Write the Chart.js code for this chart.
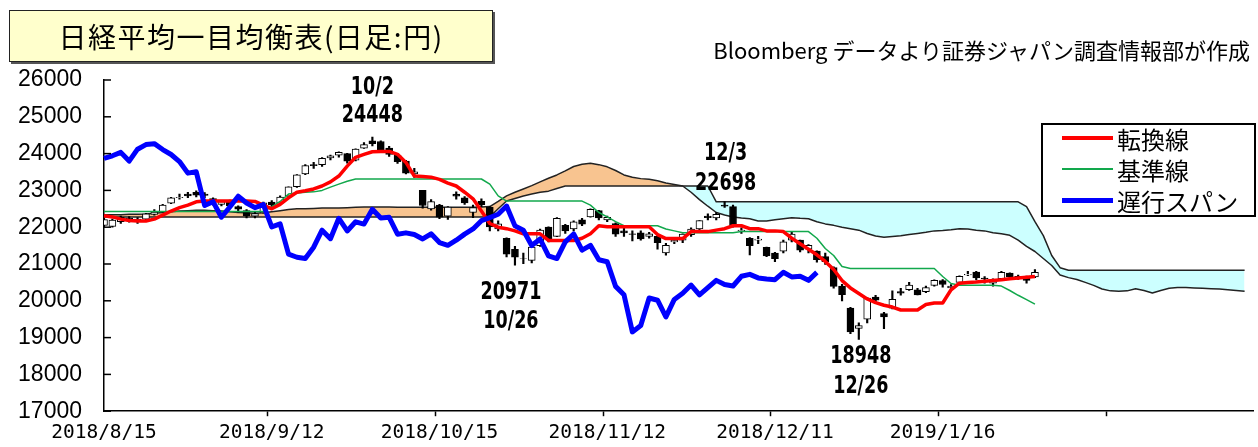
<!DOCTYPE html>
<html lang="ja">
<head>
<meta charset="utf-8">
<title>日経平均一目均衡表</title>
<script src="https://cdn.jsdelivr.net/npm/chart.js@4.4.1/dist/chart.umd.min.js"></script>
<style>
  body { margin: 0; background: #fff; }
  #wrap { position: relative; width: 1258px; height: 447px; overflow: hidden; }
  #wrap canvas { position: absolute; left: 0; top: 0; }
  .title {
    position: absolute; left: 9px; top: 10px; width: 484px; height: 52px; box-sizing: border-box;
    background: #ffffcc; border: 1px solid #222; box-shadow: 2px 2px 0 #555;
    font: 28px "Noto Sans CJK JP", sans-serif; letter-spacing: 1.5px; color: #000;
    display: flex; align-items: center; justify-content: center;
  }
  .source {
    position: absolute; right: 8px; top: 33px; line-height: 28px; white-space: nowrap;
    font: 22px "Noto Sans CJK JP", sans-serif; color: #000;
  }
  .legend {
    position: absolute; left: 1041px; top: 123px; width: 215px; height: 94px; box-sizing: border-box;
    background: #fff; border: 2px solid #000;
  }
  .legend .row {
    position: absolute; left: 19px; height: 26px; display: flex; align-items: center;
    font: 24px "Noto Sans CJK JP", sans-serif; color: #000;
  }
  .legend .swatch { width: 51px; margin-right: 4px; }
</style>
</head>
<body>
<div id="wrap">
  <canvas id="ichimoku"></canvas>
  <div class="title">日経平均一目均衡表(日足:円)</div>
  <div class="source">Bloomberg データより証券ジャパン調査情報部が作成</div>
  <div class="legend">
    <div class="row" style="top:0px"><span class="swatch" style="height:4px;background:#ff0000"></span>転換線</div>
    <div class="row" style="top:31px"><span class="swatch" style="height:1.5px;background:#12a84c"></span>基準線</div>
    <div class="row" style="top:62px"><span class="swatch" style="height:5px;background:#0000ff"></span>遅行スパン</div>
  </div>
</div>
<script>
// trading days shown on the x axis (empty slots follow for the cloud)
const dates = [
  '2018/8/15','2018/8/16','2018/8/17','2018/8/20','2018/8/21','2018/8/22','2018/8/23','2018/8/24','2018/8/27','2018/8/28','2018/8/29','2018/8/30','2018/8/31',
  '2018/9/3','2018/9/4','2018/9/5','2018/9/6','2018/9/7','2018/9/10','2018/9/11','2018/9/12','2018/9/13','2018/9/14','2018/9/18','2018/9/19','2018/9/20','2018/9/21','2018/9/25','2018/9/26','2018/9/27','2018/9/28',
  '2018/10/1','2018/10/2','2018/10/3','2018/10/4','2018/10/5','2018/10/9','2018/10/10','2018/10/11','2018/10/12','2018/10/15','2018/10/16','2018/10/17','2018/10/18','2018/10/19','2018/10/22','2018/10/23','2018/10/24','2018/10/25','2018/10/26','2018/10/29','2018/10/30','2018/10/31',
  '2018/11/1','2018/11/2','2018/11/5','2018/11/6','2018/11/7','2018/11/8','2018/11/9','2018/11/12','2018/11/13','2018/11/14','2018/11/15','2018/11/16','2018/11/19','2018/11/20','2018/11/21','2018/11/22','2018/11/26','2018/11/27','2018/11/28','2018/11/29','2018/11/30',
  '2018/12/3','2018/12/4','2018/12/5','2018/12/6','2018/12/7','2018/12/10','2018/12/11','2018/12/12','2018/12/13','2018/12/14','2018/12/17','2018/12/18','2018/12/19','2018/12/20','2018/12/21','2018/12/25','2018/12/26','2018/12/27','2018/12/28',
  '2019/1/4','2019/1/7','2019/1/8','2019/1/9','2019/1/10','2019/1/11','2019/1/15','2019/1/16','2019/1/17','2019/1/18','2019/1/21','2019/1/22','2019/1/23','2019/1/24','2019/1/25','2019/1/28','2019/1/29','2019/1/30','2019/1/31'
];
const futureSlots = 25;
const tickEvery = 20;

const opens = [22050,22020,22150,22250,22150,22220,22350,22420,22650,22800,22900,22950,22900,
  22780,22620,22700,22560,22450,22300,22390,22680,22650,22840,23100,23450,23700,23700,23880,23960,24000,23820,
  24150,24350,24330,24150,23950,23800,23450,23000,22500,22600,22300,22900,22800,22400,22700,22550,21950,21700,21400,21150,21100,21500,
  22000,21750,22050,21950,22200,22280,22450,22200,22100,21900,21820,21850,21750,21750,21300,21600,21650,21800,21950,22300,22250,
  22600,22560,21900,21700,21650,21450,21300,21350,21650,21650,21400,21350,21200,20900,20400,19800,19250,19500,20100,
  19650,19800,20250,20300,20300,20250,20420,20550,20350,20500,20700,20780,20620,20480,20600,20750,20600,20650,20650];
const highs = [22250,22220,22300,22290,22260,22380,22480,22620,22810,22900,22950,22990,22940,
  22800,22720,22740,22580,22480,22420,22680,22720,22850,23100,23430,23700,23760,23890,23960,24050,24010,24130,
  24300,24448,24350,24200,23990,23820,23600,23000,22750,22620,22560,22960,22830,22600,22770,22560,22170,21710,21480,21300,21520,21950,
  22010,22260,22080,22170,22240,22500,22460,22300,22120,22000,21900,21900,21860,21770,21560,21680,21820,21980,22180,22360,22400,
  22698,22600,21980,21720,21750,21460,21320,21650,21860,21650,21530,21360,21300,20920,20450,19820,19400,20090,20150,
  19690,20270,20340,20500,20340,20400,20570,20580,20440,20680,20800,20800,20660,20600,20800,20760,20700,20670,20850];
const lows = [22000,21999,22100,22140,22100,22200,22330,22400,22640,22760,22800,22820,22800,
  22600,22580,22520,22400,22250,22250,22380,22560,22640,22820,23080,23430,23600,23650,23830,23900,23740,23800,
  24140,24210,24080,23920,23730,23450,23350,22520,22460,22230,22210,22760,22620,22260,22560,21900,21900,21190,20971,21010,21030,21480,
  21600,21740,21830,21900,22040,22270,22200,22150,21750,21750,21630,21650,21700,21400,21240,21550,21580,21750,21920,22200,22200,
  22540,22000,21830,21250,21550,21200,21060,21300,21600,21330,21300,21050,20990,20340,20000,19110,18948,19400,19950,
  19240,19780,20150,20280,20160,20220,20400,20370,20300,20480,20680,20570,20480,20400,20580,20600,20580,20480,20630];
const closes = [22204,22192,22270,22199,22219,22362,22410,22601,22799,22813,22848,22869,22865,
  22707,22697,22580,22487,22307,22373,22664,22604,22821,23094,23420,23672,23674,23869,23940,24033,23796,24120,
  24245,24270,24110,23975,23783,23469,23506,22590,22694,22271,22549,22841,22658,22532,22614,22010,22091,21268,21184,21149,21457,21920,
  21687,22243,21898,22147,22085,22486,22250,22269,21810,21846,21803,21680,21821,21583,21507,21646,21812,21952,22177,22262,22351,
  22574,22036,21919,21501,21679,21219,21148,21602,21816,21375,21506,21115,21061,20392,20166,19155,19327,20077,20015,
  19562,20038,20204,20427,20163,20360,20555,20443,20402,20666,20719,20622,20593,20574,20774,20649,20664,20556,20773];

// 転換線
const tenkan = [22310,22280,22220,22180,22170,22170,22220,22330,22440,22530,22600,22690,22710,
  22710,22710,22710,22710,22710,22700,22600,22500,22620,22800,22950,22990,23040,23120,23230,23390,23660,23900,
  23980,24050,24060,24060,23980,23760,23390,23380,23360,23300,23200,23120,22950,22770,22440,22100,22000,21960,21900,21820,21820,21820,
  21640,21640,21640,21640,21700,21820,22040,22010,22010,22010,22010,22010,22010,21800,21690,21690,21690,21880,21880,21880,21920,
  21960,22040,22040,21960,21960,21900,21900,21880,21700,21550,21400,21250,21070,20850,20550,20350,20200,20050,19950,
  19880,19830,19750,19750,19750,19900,19940,19940,20300,20480,20500,20510,20530,20550,20570,20600,20620,20640,20660];
// 基準線
const kijun = [22430,22430,22430,22430,22430,22430,22430,22430,22430,22430,22430,22430,22430,
  22430,22430,22430,22430,22430,22430,22430,22550,22700,22900,22930,22950,22960,23000,23090,23170,23250,23310,
  23310,23310,23310,23310,23310,23310,23310,23310,23310,23310,23310,23310,23310,23310,23310,23170,22850,22710,22710,22710,22710,22710,
  22710,22710,22710,22710,22710,22600,22400,22280,22150,22040,22040,22040,22040,22040,21950,21900,21850,21850,21850,21850,21850,
  21850,21850,21880,21880,21880,21880,21880,21880,21880,21880,21880,21700,21420,21230,20930,20880,20880,20880,20880,
  20880,20880,20880,20880,20880,20880,20880,20660,20470,20420,20420,20420,20420,20420,20400,20280,20150,20030,19910];
// 遅行スパン (plotted 26 days back)
const chikou = [23869,23940,24033,23796,24120,24245,24270,24110,23975,23783,23469,23506,22590,22694,22271,22549,22841,22658,22532,22614,
  22010,22091,21268,21184,21149,21457,21920,21687,22243,21898,22147,22085,22486,22250,22269,21810,21846,21803,21680,21821,
  21583,21507,21646,21812,21952,22177,22262,22351,22574,22036,21919,21501,21679,21219,21148,21602,21816,21375,21506,21115,
  21061,20392,20166,19155,19327,20077,20015,19562,20038,20204,20427,20163,20360,20555,20443,20402,20666,20719,20622,20593,
  20574,20774,20649,20664,20556,20773];
// 先行スパン1 / 先行スパン2 (cloud, 26 days ahead)
const spanA = [22340,22340,22340,22350,22350,22360,22380,22400,22420,22440,
  22450,22460,22460,22450,22440,22420,22400,22390,22380,22390,
  22420,22450,22480,22500,22500,22510,22520,22520,22520,22530,
  22540,22550,22550,22550,22550,22540,22540,22540,22540,22540,
  22540,22540,22540,22540,22545,22550,22560,22700,22850,22950,
  23040,23130,23230,23330,23420,23530,23650,23710,23740,23700,
  23640,23540,23420,23360,23320,23300,23260,23200,23160,23120,
  22950,22750,22570,22400,22330,22280,22250,22230,22170,22170,
  22200,22230,22260,22240,22230,22150,22090,22050,22000,21960,
  21920,21830,21760,21730,21750,21770,21800,21830,21860,21900,
  21910,21930,21960,21950,21920,21900,21850,21820,21780,21650,
  21480,21340,21150,20960,20700,20630,20580,20500,20420,20320,
  20270,20260,20270,20330,20280,20210,20280,20340,20360,20360,
  20350,20340,20330,20320,20300,20280,20260];
const spanB = [22280,22280,22280,22280,22280,22280,22280,22280,22280,22280,
  22280,22280,22280,22280,22280,22280,22280,22280,22280,22280,
  22280,22280,22280,22280,22280,22280,22280,22280,22280,22280,
  22280,22280,22280,22280,22280,22280,22280,22280,22280,22280,
  22280,22280,22280,22280,22280,22280,22280,22500,22710,22780,
  22850,22900,22950,22980,23050,23120,23120,23120,23120,23120,
  23120,23120,23120,23120,23120,23120,23120,23120,23120,23120,
  23120,23120,23120,22690,22690,22690,22690,22690,22690,22690,
  22690,22690,22690,22690,22690,22690,22690,22690,22690,22690,
  22690,22690,22690,22690,22690,22690,22690,22690,22690,22690,
  22690,22690,22690,22690,22690,22690,22690,22690,22690,22690,
  22560,22150,21770,21230,20900,20830,20830,20830,20830,20830,
  20830,20830,20830,20830,20830,20830,20830,20830,20830,20830,
  20830,20830,20830,20830,20830,20830,20830];

const yTicks = { min: 17000, max: 26000, step: 1000 };

const notes = [
  { index: 32, value: 24448, text: ['10/2', '24448'] },
  { index: 49, value: 20971, text: ['20971', '10/26'] },
  { index: 74, value: 22698, text: ['12/3', '22698'] },
  { index: 90, value: 18948, text: ['18948', '12/26'] }
];
const noteOffsets = [
  { dx: 0, dy: [-50, -22] },
  { dx: -4, dy: [27, 56] },
  { dx: 1, dy: [-48, -18] },
  { dx: 2, dy: [17, 47] }
];

const labels = dates.concat(new Array(futureSlots + 1).fill(''));
const bodies = opens.map((o, i) => [o, closes[i]]);
const wicks = lows.map((l, i) => [l, highs[i]]);
const bodyColors = opens.map((o, i) => (closes[i] >= o ? '#ffffff' : '#000000'));

const extras = {
  id: 'extras',
  afterDatasetsDraw(chart) {
    const { ctx, chartArea, scales: { x, y } } = chart;
    ctx.save();
    ctx.strokeStyle = '#000';
    ctx.lineWidth = 1.5;
    y.ticks.forEach(t => {
      const py = y.getPixelForValue(t.value);
      ctx.beginPath();
      ctx.moveTo(chartArea.left, py);
      ctx.lineTo(chartArea.left + 7, py);
      ctx.stroke();
    });
    ctx.fillStyle = '#000';
    ctx.textAlign = 'center';
    ctx.textBaseline = 'middle';
    ctx.font = 'bold 25px "DejaVu Sans Condensed", "DejaVu Sans", sans-serif';
    notes.forEach((n, k) => {
      const off = noteOffsets[k];
      const px = x.getPixelForValue(n.index) + off.dx;
      const py = y.getPixelForValue(n.value);
      n.text.forEach((t, j) => {
        ctx.save();
        ctx.translate(px, py + off.dy[j]);
        ctx.scale(0.78, 1);
        ctx.fillText(t, 0, 0);
        ctx.restore();
      });
    });
    ctx.restore();
  }
};

const lineBase = { type: 'line', pointRadius: 0, tension: 0, fill: false, borderJoinStyle: 'round' };

new Chart(document.getElementById('ichimoku'), {
  data: {
    labels: labels,
    datasets: [
      Object.assign({}, lineBase, { label: '遅行スパン', data: chikou, borderColor: '#0000ff', borderWidth: 5, order: 0 }),
      Object.assign({}, lineBase, { label: '転換線', data: tenkan, borderColor: '#ff0000', borderWidth: 3.5, order: 1 }),
      Object.assign({}, lineBase, { label: '基準線', data: kijun, borderColor: '#12a84c', borderWidth: 1.5, order: 2 }),
      { type: 'bar', label: '始値・終値', data: bodies, backgroundColor: bodyColors, borderColor: '#000', borderWidth: 1,
        borderSkipped: false, barThickness: 7, grouped: false, order: 3 },
      { type: 'bar', label: '高値・安値', data: wicks, backgroundColor: '#000', barThickness: 1.5, grouped: false, order: 4 },
      Object.assign({}, lineBase, { label: '先行スパン1', data: spanA, borderColor: '#222', borderWidth: 1.5, order: 5,
        fill: { target: 6, above: '#f8c490', below: '#ccffff' } }),
      Object.assign({}, lineBase, { label: '先行スパン2', data: spanB, borderColor: '#222', borderWidth: 1.5, order: 6 })
    ]
  },
  options: {
    responsive: true,
    maintainAspectRatio: false,
    animation: false,
    layout: { padding: { top: 80, right: 2, left: 0, bottom: 0 } },
    plugins: {
      legend: { display: false },
      tooltip: { enabled: false },
      filler: { drawTime: 'beforeDatasetsDraw' }
    },
    scales: {
      x: {
        type: 'category',
        offset: false,
        afterFit: s => { s.height = 33; },
        border: { display: true, color: '#000', width: 1.5 },
        grid: {
          display: true, drawOnChartArea: false, drawTicks: true, tickLength: 5, tickWidth: 1.5,
          tickColor: c => (c.index % tickEvery === 0 ? '#000' : 'rgba(0,0,0,0)')
        },
        ticks: {
          autoSkip: false, maxRotation: 0, minRotation: 0, padding: 5, color: '#000',
          font: { family: 'DejaVu Sans Mono', size: 19.5 },
          callback: function (v, i) { return i % tickEvery === 0 ? this.getLabelForValue(v) : ''; }
        }
      },
      y: {
        min: yTicks.min,
        max: yTicks.max,
        afterFit: s => { s.width = 104; },
        border: { display: true, color: '#000', width: 1.5 },
        grid: { display: true, drawOnChartArea: false, drawTicks: false },
        ticks: {
          stepSize: yTicks.step, padding: 22, color: '#000',
          font: { family: 'Liberation Sans', size: 23 },
          callback: v => String(v)
        }
      }
    }
  },
  plugins: [extras]
});
</script>
</body>
</html>
